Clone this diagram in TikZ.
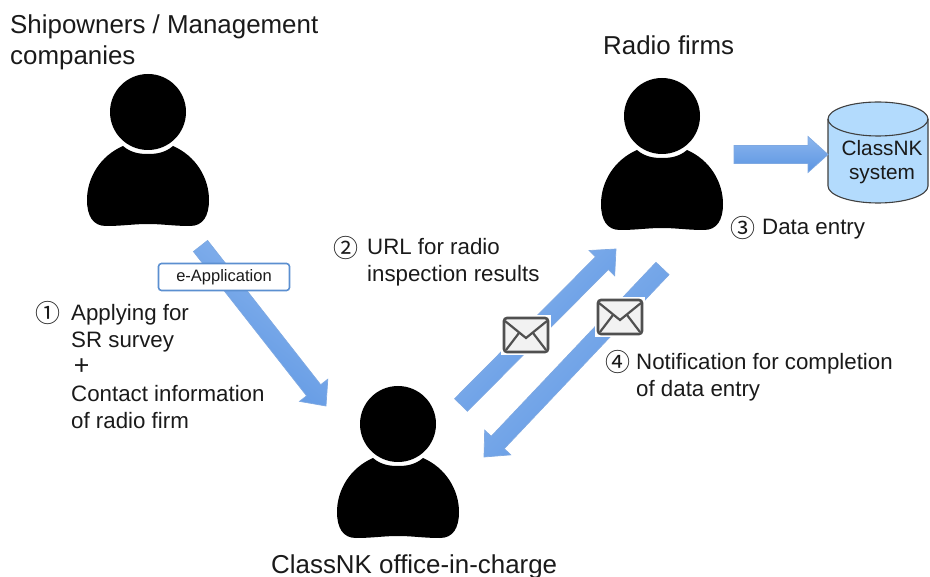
\documentclass[tikz,border=0pt]{standalone}
\usepackage{fontspec}
\setmainfont{Liberation Sans}
\newfontfamily\symfont{Noto Sans CJK SC}
\usetikzlibrary{calc}
\definecolor{arrowline}{HTML}{7FA9E2}
\definecolor{arrowlight}{HTML}{8CB6EE}
\definecolor{arrowdark}{HTML}{5A94E2}
\definecolor{boxline}{HTML}{5B8FD0}
\definecolor{cylfill}{HTML}{B3DBFD}
\definecolor{inkline}{HTML}{404040}
\definecolor{envline}{HTML}{505050}
\definecolor{textcol}{HTML}{1A1A1A}
\tikzset{
  x=1pt,y=-1pt,
  titlelabel/.style={anchor=base west,inner sep=0pt,font=\fontsize{25.9}{26}\selectfont,text=textcol},
  steplabel/.style={anchor=base west,inner sep=0pt,font=\fontsize{22.3}{22}\selectfont,text=textcol},
  numlabel/.style={anchor=center,inner sep=0pt,font=\symfont\fontsize{25}{25}\selectfont,text=textcol},
  blockshape/.style={draw=arrowline,line width=0.7pt,line join=miter,top color=arrowlight,bottom color=arrowdark},
  person/.pic={
    \fill[black] (0,0) circle[radius=38];
    \fill[black] (-25,34) .. controls (-48,44) and (-61,66) .. (-61,88)
      .. controls (-61,104) and (-55,114) .. (-42,114)
      .. controls (-25,114) and (-15,112) .. (0,112)
      .. controls (15,112) and (25,114) .. (42,114)
      .. controls (55,114) and (61,104) .. (61,88)
      .. controls (61,66) and (48,44) .. (25,34)
      .. controls (17,41) and (8,42) .. (0,42)
      .. controls (-8,42) and (-17,41) .. (-25,34) -- cycle;
  },
  envelope/.pic={
    \fill[white] (-25,-20) rectangle (25,20);
    \draw[envline,fill=white!95!black,line width=2.6pt,rounded corners=3pt] (-22,-17) rectangle (22,17);
    \draw[envline,line width=2.2pt] (-21,-14) -- (0,3) -- (21,-14);
    \draw[envline,line width=2.2pt] (-20,15) -- (-7,-2);
    \draw[envline,line width=2.2pt] (20,15) -- (7,-2);
  }
}
\newcommand{\blockarrow}[3]{%
  \coordinate (headbase) at ($(#2)!20pt!(#1)$);
  \path[blockshape,shading angle=#3]
    ($(#1)!9pt!90:(#2)$) -- ($(headbase)!9pt!90:(#2)$) -- ($(headbase)!18pt!90:(#2)$)
    -- (#2) -- ($(headbase)!18pt!-90:(#2)$) -- ($(headbase)!9pt!-90:(#2)$)
    -- ($(#1)!9pt!-90:(#2)$) -- cycle;
}
\begin{document}
\begin{tikzpicture}
\useasboundingbox (0,0) rectangle (930,577);
% people
\pic at (148,112) {person};
\pic at (662,116) {person};
\pic at (398,424) {person};
% cylinder
\path[draw=inkline,fill=cylfill,line width=1.1pt]
  (828,119) -- (828,186) arc[x radius=50,y radius=17,start angle=180,end angle=0] -- (928,119)
  arc[x radius=50,y radius=17,start angle=0,end angle=-180] -- cycle;
\draw[inkline,line width=1.1pt] (828,119) arc[x radius=50,y radius=17,start angle=180,end angle=0];
\node[anchor=center,align=center,inner sep=0pt,font=\fontsize{20.8}{24}\selectfont,text=textcol] (sys) at (882,162) {ClassNK\\system};
% connectors
\coordinate (aonefrom) at (200.5,246); \coordinate (aoneto) at (326,406);
\coordinate (atwofrom) at (461,405);   \coordinate (atwoto) at (616,249);
\coordinate (athreefrom) at (662.5,268.5); \coordinate (athreeto) at (484,457);
\coordinate (afourfrom) at (734,154.5); \coordinate (afourto) at (828,154.5);
\blockarrow{aonefrom}{aoneto}{-38}
\blockarrow{atwofrom}{atwoto}{45}
\blockarrow{athreefrom}{athreeto}{45}
\blockarrow{afourfrom}{afourto}{0}
% e-Application
\node[draw=boxline,fill=white,line width=1.6pt,rounded corners=3pt,minimum width=131pt,minimum height=27pt,inner sep=0pt,font=\fontsize{16.5}{16}\selectfont,text=textcol] (eapp) at (224,277) {e-Application};
% envelopes
\pic at (526,335) {envelope};
\pic at (620,317) {envelope};
% titles
\node[titlelabel] (owners) at (10,34) {Shipowners / Management};
\node[titlelabel] (comp) at (10,65) {companies};
\node[titlelabel] (radio) at (603,55) {Radio firms};
\node[titlelabel] (office) at (271,573) {ClassNK office-in-charge};
% step 1
\node[numlabel] (n1) at (48,313) {①};
\node[steplabel] (l1a) at (71,321) {Applying for};
\node[steplabel] (l1b) at (71,348) {SR survey};
\node[numlabel,font=\symfont\fontsize{27}{27}\selectfont] (plus) at (82,367) {+};
\node[steplabel] (l1c) at (71,402) {Contact information};
\node[steplabel] (l1d) at (71,429) {of radio firm};
% step 2
\node[numlabel] (n2) at (346,248) {②};
\node[steplabel] (l2a) at (367,255) {URL for radio};
\node[steplabel] (l2b) at (367,282) {inspection results};
% step 3
\node[numlabel] (n3) at (743,228) {③};
\node[steplabel] (l3) at (762,235) {Data entry};
% step 4
\node[numlabel] (n4) at (618,362) {④};
\node[steplabel] (l4a) at (636,370) {Notification for completion};
\node[steplabel] (l4b) at (636,397) {of data entry};
\end{tikzpicture}
\end{document}
